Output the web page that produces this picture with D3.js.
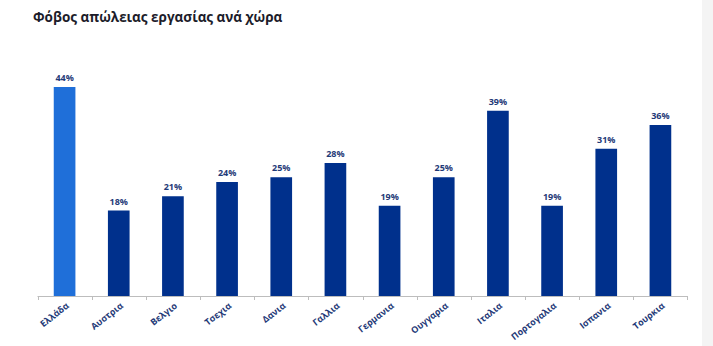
<!DOCTYPE html>
<html>
<head>
<meta charset="utf-8">
<script src="https://cdn.jsdelivr.net/npm/d3@7"></script>
<style>
  body { margin: 0; background: #fff; }
  svg { display: block; font-family: "Open Sans", "DejaVu Sans", sans-serif; }
</style>
</head>
<body>
<script>
// δεδομένα
const countries = ["Ελλάδα", "Αυστρια", "Βελγιο", "Τσεχια", "Δανια", "Γαλλια",
  "Γερμανια", "Ουγγαρια", "Ιταλια", "Πορτογαλια", "Ισπανια", "Τουρκια"];
const values = [44, 18, 21, 24, 25, 28, 19, 25, 39, 19, 31, 36];
const highlight = "Ελλάδα";

const width = 713;
const height = 346;

const svg = d3.select("body")
  .append("svg")
  .attr("width", width)
  .attr("height", height);

// γκρι λωρίδα δεξιά
svg.append("rect")
  .attr("x", 702)
  .attr("y", 0)
  .attr("width", width - 702)
  .attr("height", height)
  .style("fill", "#f4f4f4");

svg.append("text")
  .attr("x", 33)
  .attr("y", 22)
  .style("font-size", "13.5px")
  .style("font-weight", "bold")
  .style("fill", "#1c1c2a")
  .text("Φόβος απώλειας εργασίας ανά χώρα");

const x = d3.scaleBand()
  .domain(countries)
  .range([37.5, 687.5])
  .paddingInner(0.6)
  .paddingOuter(0.3);

const y = d3.scaleLinear()
  .domain([0, 44])
  .range([296, 87]);

const step = x.step();

// άξονας
svg.append("line")
  .attr("x1", 37.5).attr("x2", 688)
  .attr("y1", 296.5).attr("y2", 296.5)
  .style("stroke", "#bdbdbd");

const ticks = countries.map(c => x(c) - x.paddingInner() * step / 2);
ticks.push(x(countries[countries.length - 1]) + x.bandwidth() + x.paddingInner() * step / 2);

svg.selectAll(".tick")
  .data(ticks)
  .enter()
  .append("line")
  .attr("x1", d => Math.round(d) + 0.5)
  .attr("x2", d => Math.round(d) + 0.5)
  .attr("y1", 296)
  .attr("y2", 300)
  .style("stroke", "#bdbdbd");

svg.selectAll(".bar")
  .data(countries)
  .enter()
  .append("rect")
  .attr("x", d => x(d))
  .attr("y", (d, i) => y(values[i]))
  .attr("width", x.bandwidth())
  .attr("height", (d, i) => y(0) - y(values[i]))
  .style("fill", d => d === highlight ? "#1f6fd9" : "#00308c");

svg.selectAll(".val")
  .data(countries)
  .enter()
  .append("text")
  .attr("x", d => x(d) + x.bandwidth() / 2)
  .attr("y", (d, i) => y(values[i]) - 6)
  .attr("text-anchor", "middle")
  .style("font-size", "9px")
  .style("font-weight", "bold")
  .style("fill", "#1f3a78")
  .text((d, i) => values[i] + "%");

// ετικέτες με περιστροφή
const labs = svg.selectAll(".lab")
  .data(countries)
  .enter()
  .append("g")
  .attr("class", "lab")
  .attr("transform", d => `translate(${x(d) + x.bandwidth() / 2 + 5},307)`);

labs.append("g")
  .attr("transform", "rotate(-38)")
  .append("text")
  .attr("text-anchor", "end")
  .style("font-size", "9px")
  .style("font-weight", "bold")
  .style("fill", "#1f3a78")
  .text(d => d);
</script>
</body>
</html>
